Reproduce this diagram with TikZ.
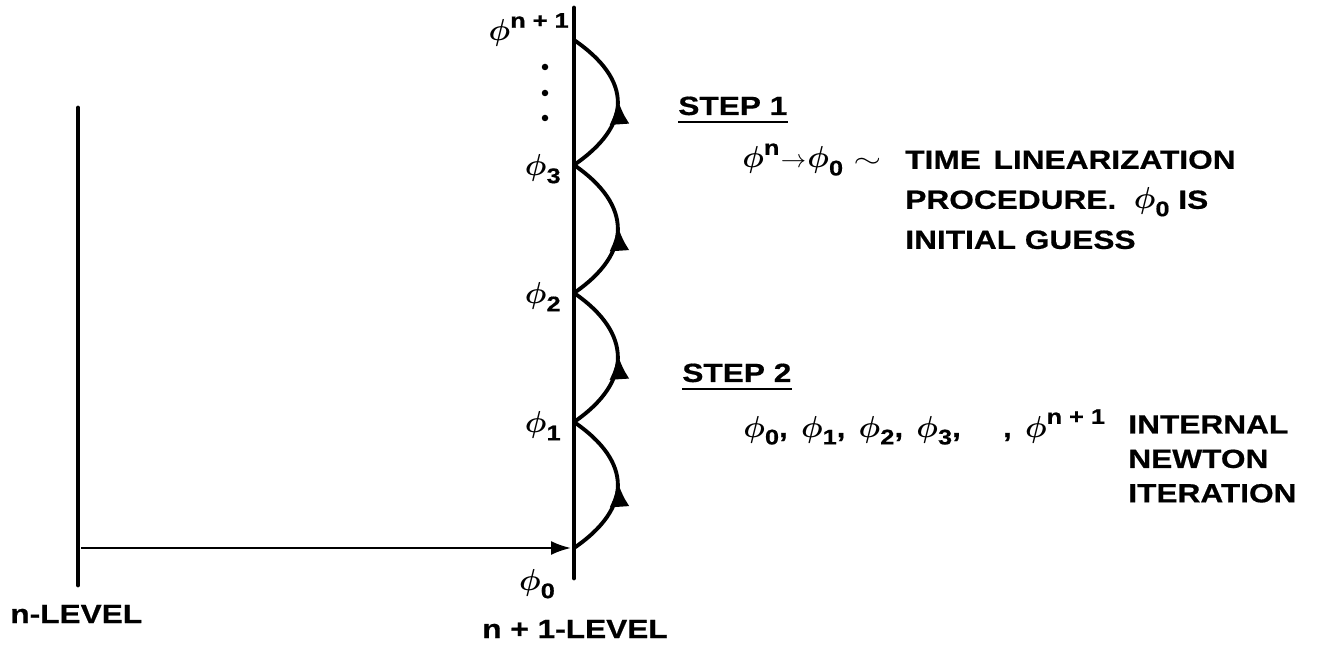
\documentclass[tikz,border=0pt]{standalone}
\usepackage{fontspec}
\usepackage{bm}
\usepackage{graphicx}
\setmainfont{Liberation Sans}[FakeStretch=1.2, BoldFeatures={FakeBold=0.6}]
\usetikzlibrary{arrows.meta, decorations.markings, positioning}

\newcommand{\phig}{{\fontsize{18}{18}\selectfont$\bm{\phi}$}}
\newcommand{\phis}[1]{\phig\raisebox{-0.28em}{\fontsize{12}{12}\selectfont #1}}
\newcommand{\phisup}[1]{\phig\raisebox{0.5em}{\fontsize{12}{12}\selectfont #1}}

\tikzset{
  lbl/.style={font=\bfseries\fontsize{15}{18}\selectfont, inner sep=0pt},
  level/.style={line width=2.8pt, line cap=round},
  hop/.style={line width=2.2pt, postaction={decorate},
    decoration={markings, mark=at position 0.52 with {\arrow{Latex[length=0.5cm,width=0.4cm]}}}},
}

\begin{document}
\begin{tikzpicture}
  \useasboundingbox (0,0) rectangle (26.38,13.04);
  % time levels
  \coordinate (nTop) at (1.56,10.88);
  \coordinate (nBot) at (1.56,1.34);
  \coordinate (mTop) at (11.48,12.88);
  \coordinate (mBot) at (11.48,1.48);
  \draw[level] (nTop) -- (nBot);
  \draw[level] (mTop) -- (mBot);
  % iterates on the n+1 level
  \foreach \i/\y in {0/2.08, 1/4.60, 2/7.18, 3/9.74, 4/12.24}
    \coordinate (p\i) at (11.48,\y);
  \coordinate (start) at (1.56,2.08);
  \draw[-{Latex[length=0.4cm,width=0.28cm]}, line width=1.3pt, shorten <=0.06cm, shorten >=0.06cm] (start) -- (p0);
  % Newton hops
  \foreach \a/\b in {0/1, 1/2, 2/3, 3/4}
    \draw[hop] (p\a) .. controls +(1.17,0.8) and +(1.17,-0.8) .. (p\b);
  % dots
  \foreach \y in {11.70, 11.18, 10.68}
    \fill (10.90,\y) circle (0.065);
  % iterate labels
  \node[lbl] (l0) at (10.74,1.36) {\phis{0}};
  \node[lbl, anchor=east] (l1) at (11.22,4.52) {\phis{1}};
  \node[lbl, anchor=east] (l2) at (11.22,7.10) {\phis{2}};
  \node[lbl, anchor=east] (l3) at (11.22,9.66) {\phis{3}};
  \node[lbl, anchor=east] (l4) at (11.38,12.44) {\phisup{n + 1}};
  \node[lbl, anchor=base west] (nlev) at (0.20,0.58) {n-LEVEL};
  \node[lbl, anchor=base] (mlev) at (11.50,0.28) {n + 1-LEVEL};
  % step 1
  \node[lbl, anchor=base west] (step1) at (13.56,10.74) {STEP 1};
  \draw[line width=1.2pt] ([yshift=-0.14cm]step1.base west) -- ([yshift=-0.14cm]step1.base east);
  \node[lbl, anchor=base west] (lin) at (14.84,9.68)
    {\phisup{n}\hspace{0.05em}$\rightarrow$\hspace{0.05em}\phis{0}\hspace{0.4em}\scalebox{1.4}[1]{$\sim$}};
  \node[lbl, anchor=north west, align=left, font=\bfseries\fontsize{15}{22.8}\selectfont] (linText) at (18.10,10.04)
    {TIME\hspace{0.15em} LINEARIZATION\\ PROCEDURE.\ \ \phis{0} IS\\ INITIAL GUESS};
  % step 2
  \node[lbl, anchor=base west] (step2) at (13.64,5.40) {STEP 2};
  \draw[line width=1.2pt] ([yshift=-0.14cm]step2.base west) -- ([yshift=-0.14cm]step2.base east);
  \node[lbl, anchor=base west] (iter) at (14.86,4.30)
    {\phis{0},\hspace{0.5em}\phis{1},\hspace{0.5em}\phis{2},\hspace{0.5em}\phis{3},\hspace{1.6em},\hspace{0.5em}\phisup{n + 1}};
  \node[lbl, anchor=north west, align=left, font=\bfseries\fontsize{15}{19.6}\selectfont] (iterText) at (22.56,4.74)
    {INTERNAL\\ NEWTON\\ ITERATION};
\end{tikzpicture}
\end{document}
